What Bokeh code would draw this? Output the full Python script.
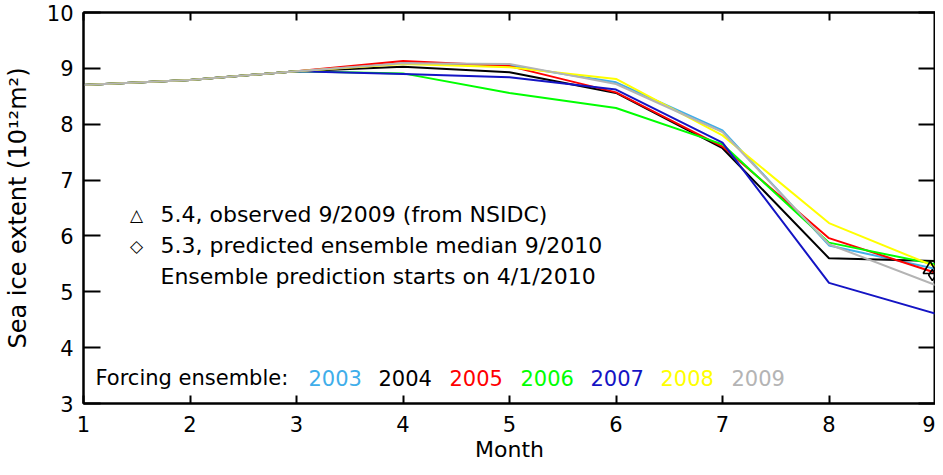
from bokeh.plotting import figure
from bokeh.models import LinearAxis, Label, FixedTicker
from bokeh.embed import file_html
from bokeh.resources import INLINE

# ---------------- data ----------------
months = [1, 2, 3, 4, 5, 6, 7, 8, 9]
years = ["2003", "2004", "2005", "2006", "2007", "2008", "2009"]
colors = ["#3FAEEA", "#000000", "#FF0000", "#00FF00", "#1414C4", "#FFFF00", "#B4B4B4"]

ext_2003 = [8.70, 8.79, 8.95, 9.09, 9.05, 8.75, 7.89, 5.83, 5.41]
ext_2004 = [8.70, 8.79, 8.95, 9.03, 8.93, 8.56, 7.57, 5.60, 5.55]
ext_2005 = [8.70, 8.79, 8.95, 9.13, 9.04, 8.57, 7.60, 5.96, 5.34]
ext_2006 = [8.70, 8.79, 8.95, 8.91, 8.56, 8.29, 7.64, 5.88, 5.49]
ext_2007 = [8.70, 8.79, 8.95, 8.90, 8.84, 8.62, 7.67, 5.16, 4.61]
ext_2008 = [8.70, 8.79, 8.95, 9.08, 9.02, 8.81, 7.80, 6.23, 5.45]
ext_2009 = [8.70, 8.79, 8.95, 9.09, 9.08, 8.72, 7.86, 5.85, 5.12]
series = [ext_2003, ext_2004, ext_2005, ext_2006, ext_2007, ext_2008, ext_2009]

obs_month = [8.95]       # as drawn in the picture, just inside the right axis
obs_value = [5.4]        # observed 9/2009 (NSIDC)
pred_month = [8.97]
pred_value = [5.3]       # predicted ensemble median 9/2010

x_ticks = [1, 2, 3, 4, 5, 6, 7, 8, 9]
y_ticks = [3, 4, 5, 6, 7, 8, 9, 10]

note_lines = ["5.4, observed 9/2009 (from NSIDC)",
              "5.3, predicted ensemble median 9/2010",
              "Ensemble prediction starts on 4/1/2010"]
note_symbols = ["\u25B3", "\u25C7", ""]
forcing_title = "Forcing ensemble:"

FONT = "DejaVu Sans"
TOP, BOTTOM = 12, 403      # frame edges in pixels (for placing the notes)

# ---------------- figure ----------------
p = figure(width=935, height=467, x_range=(1, 9), y_range=(3, 10),
           output_backend="svg", toolbar_location=None,
           min_border_left=83, min_border_right=0, min_border_top=TOP,
           min_border_bottom=467 - BOTTOM)
p.xgrid.visible = False
p.ygrid.visible = False
p.background_fill_color = "white"
p.border_fill_color = "white"
p.outline_line_color = "black"
p.outline_line_width = 2


def style_axis(ax, tick_in):
    ax.axis_line_color = "black"
    ax.axis_line_width = 2
    ax.major_tick_line_color = "black"
    ax.major_tick_line_width = 2
    ax.major_tick_in = tick_in
    ax.major_tick_out = 0
    ax.minor_tick_in = 0
    ax.minor_tick_out = 0
    ax.minor_tick_line_color = None


# bottom axis
xa = p.xaxis[0]
xa.ticker = FixedTicker(ticks=x_ticks)
style_axis(xa, 8)
xa.axis_label = "Month"
xa.axis_label_text_font = FONT
xa.axis_label_text_font_size = "22px"
xa.axis_label_text_font_style = "normal"
xa.axis_label_text_color = "black"
xa.axis_label_standoff = 2
xa.major_label_text_font = FONT
xa.major_label_text_font_size = "21px"
xa.major_label_text_color = "black"
xa.major_label_standoff = 12

# left axis
ya = p.yaxis[0]
ya.ticker = FixedTicker(ticks=y_ticks)
style_axis(ya, 17)
ya.axis_label = "Sea ice extent (10\u00b9\u00b2m\u00b2)"
ya.axis_label_text_font = FONT
ya.axis_label_text_font_size = "24px"
ya.axis_label_text_font_style = "normal"
ya.axis_label_text_color = "black"
ya.axis_label_standoff = 12
ya.major_label_text_font = FONT
ya.major_label_text_font_size = "21px"
ya.major_label_text_color = "black"
ya.major_label_standoff = 10

# right axis (ticks only)
ra = LinearAxis(ticker=FixedTicker(ticks=y_ticks), major_label_text_font_size="1px",
                major_label_text_color=None, major_label_standoff=0)
style_axis(ra, 17)
p.add_layout(ra, "right")

# top axis (ticks only)
ta = LinearAxis(ticker=FixedTicker(ticks=x_ticks), major_label_text_font_size="1px",
                major_label_text_color=None, major_label_standoff=0)
style_axis(ta, 8)
p.add_layout(ta, "above")

# ---------------- lines ----------------
for vals, c in zip(series, colors):
    p.line(months, vals, line_color=c, line_width=2)

p.scatter(obs_month, obs_value, marker="triangle", size=14, fill_color=None,
          line_color="black", line_width=1.6)
p.scatter(pred_month, pred_value, marker="diamond", size=11, fill_color=None,
          line_color="black", line_width=1.5)

# ---------------- annotations ----------------
def ydat(page_y):
    return 10 - (page_y - TOP) / ((BOTTOM - TOP) / 7.0)


note_baselines = [214, 245, 276]
for sym, txt, by in zip(note_symbols, note_lines, note_baselines):
    if sym:
        p.add_layout(Label(x=1, y=ydat(by), x_offset=53, text=sym, text_align="center",
                           text_baseline="alphabetic", text_font=FONT, text_font_size="17px",
                           text_font_style="bold", text_color="black"))
    p.add_layout(Label(x=1, y=ydat(by), x_offset=77, text=txt, text_align="left",
                       text_baseline="alphabetic", text_font=FONT, text_font_size="22px",
                       text_color="black"))

p.add_layout(Label(x=1, y=ydat(377), x_offset=12, text=forcing_title, text_align="left",
                   text_baseline="alphabetic", text_font=FONT, text_font_size="21px",
                   text_color="black"))
year_x = [308, 378, 449, 520, 590, 660, 731]
for yr, c, px in zip(years, colors, year_x):
    p.add_layout(Label(x=1, y=ydat(377), x_offset=px - 83, text=yr, text_align="left",
                       text_baseline="alphabetic", text_font=FONT, text_font_size="21px",
                       text_color=c))

open("out.html", "w").write(file_html(p, INLINE))
